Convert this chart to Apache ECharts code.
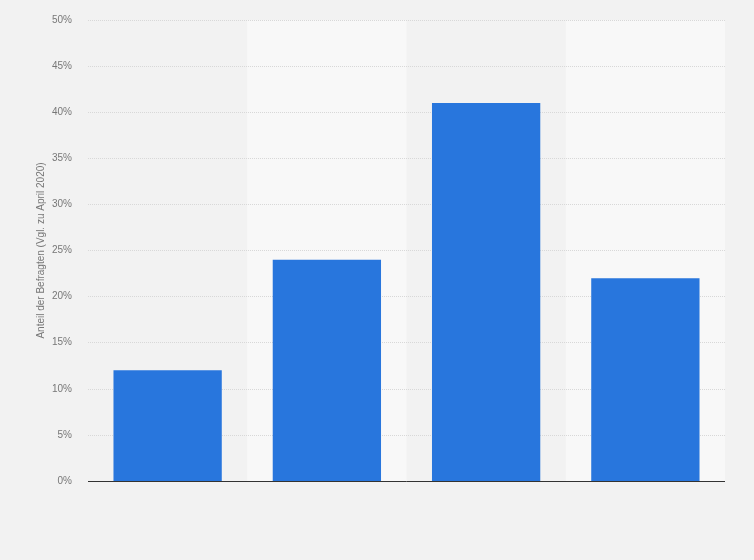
<!DOCTYPE html>
<html>
<head>
<meta charset="utf-8">
<script src="https://cdn.jsdelivr.net/npm/echarts@6/dist/echarts.min.js"></script>
<style>
html,body{margin:0;padding:0;background:#f2f2f2;}
#c{width:754px;height:560px;}
</style>
</head>
<body>
<div id="c"></div>
<script>
const categories = ['A', 'B', 'C', 'D'];
const values = [12, 24, 41, 22];
const yTicks = { min: 0, max: 50, interval: 5 };
const yTitle = 'Anteil der Befragten (Vgl. zu April 2020)';

const chart = echarts.init(document.getElementById('c'));
chart.setOption({
  backgroundColor: '#f2f2f2',
  animation: false,
  grid: { left: 88, right: 29, top: 20, bottom: 79 },
  xAxis: {
    type: 'category',
    data: categories,
    z: 1,
    axisLine: { show: false },
    axisTick: { show: false },
    axisLabel: { show: false },
    splitArea: { show: true, areaStyle: { color: ['rgba(0,0,0,0)', '#f8f8f8'] } }
  },
  yAxis: [{
    type: 'value',
    z: 3,
    min: yTicks.min, max: yTicks.max, interval: yTicks.interval,
    name: yTitle,
    nameLocation: 'middle',
    nameGap: 42,
    nameMoveOverlap: false,
    nameTextStyle: { color: '#777', fontSize: 10, fontFamily: 'Liberation Sans, Arial' },
    axisLine: { show: false },
    axisTick: { show: false },
    axisLabel: { formatter: '{value}%', color: '#777', fontSize: 10, fontFamily: 'Liberation Sans, Arial', margin: 16 },
    splitLine: { lineStyle: { color: '#d8d8d8', type: 'dotted' } }
  }],
  series: [{
    type: 'bar',
    data: values,
    barWidth: '68%',
    z: 4,
    itemStyle: { color: '#2876dd' },
    markLine: {
      silent: true,
      symbol: 'none',
      label: { show: false },
      lineStyle: { color: '#333', type: 'solid', width: 1 },
      data: [{ yAxis: 0 }]
    }
  }]
});
</script>
</body>
</html>
